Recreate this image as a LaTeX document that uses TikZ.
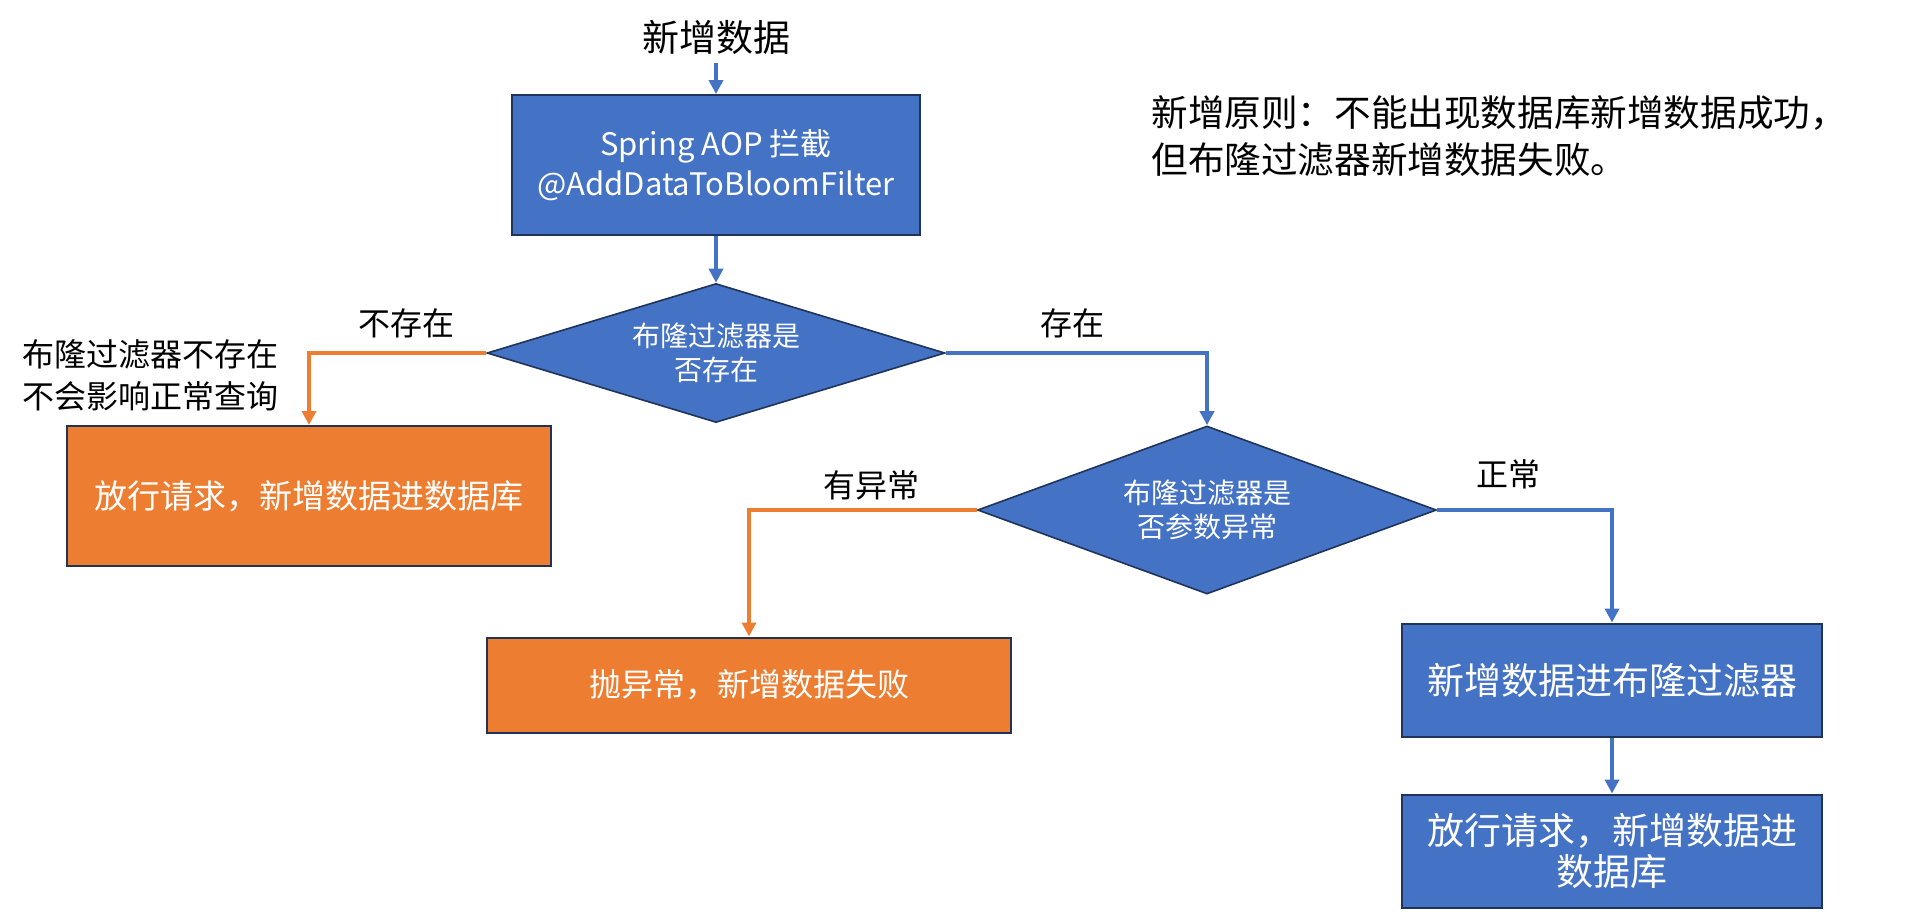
\documentclass[tikz,border=0pt]{standalone}
\usepackage{fontspec}
\setmainfont{Noto Sans CJK SC}
\usetikzlibrary{arrows.meta,shapes.geometric}
\definecolor{fillblue}{HTML}{4472C4}
\definecolor{fillorange}{HTML}{ED7D31}
\definecolor{edgenavy}{HTML}{1F3458}
\tikzset{
  box/.style={rectangle, draw=edgenavy, line width=1pt, text=white, inner sep=0pt, align=center},
  bluebox/.style={box, fill=fillblue},
  orangebox/.style={box, fill=fillorange},
  decision/.style={diamond, draw=edgenavy, line width=0.8pt, fill=fillblue, text=white, inner sep=0pt, align=center, font=\fontsize{14pt}{17pt}\selectfont},
  bluearrow/.style={draw=fillblue, line width=2pt, -{Triangle[length=7pt,width=7pt]}},
  orangearrow/.style={draw=fillorange, line width=2pt, -{Triangle[length=7pt,width=7pt]}},
  lbl/.style={text=black, inner sep=0pt, align=left}
}
\begin{document}
\begin{tikzpicture}[x=0.5pt,y=-0.5pt]
\useasboundingbox (0,0) rectangle (1910,918);
\fill[white] (0,0) rectangle (1910,918);
% title
\node[lbl, font=\fontsize{18.5pt}{22pt}\selectfont] (title) at (716,37) {新增数据};
\coordinate (tstart) at (716,63);
% boxes
\node[bluebox, minimum width=204pt, minimum height=70pt, font=\fontsize{15.5pt}{20pt}\selectfont] (aop) at (716,165) {Spring AOP 拦截\\@AddDataToBloomFilter};
\node[decision, aspect=3.3, minimum width=229pt, minimum height=69.5pt] (d1) at (716,353) {布隆过滤器是\\否存在};
\node[orangebox, minimum width=242pt, minimum height=70pt, font=\fontsize{16.5pt}{20pt}\selectfont] (pass1) at (309,496) {放行请求，新增数据进数据库};
\node[decision, aspect=2.73, minimum width=229.5pt, minimum height=84pt] (d2) at (1207,510) {布隆过滤器是\\否参数异常};
\node[orangebox, minimum width=262pt, minimum height=47.5pt, font=\fontsize{16pt}{20pt}\selectfont] (fail) at (749,685) {抛异常，新增数据失败};
\node[bluebox, minimum width=210pt, minimum height=56.5pt, font=\fontsize{18.5pt}{22pt}\selectfont] (addbf) at (1612,680) {新增数据进布隆过滤器};
\node[bluebox, minimum width=210pt, minimum height=56.5pt, font=\fontsize{18.5pt}{20.5pt}\selectfont] (pass2) at (1612,851) {放行请求，新增数据进\\数据库};
% labels
\node[lbl, font=\fontsize{16pt}{20pt}\selectfont] (lno) at (406,323) {不存在};
\node[lbl, font=\fontsize{16pt}{21pt}\selectfont, anchor=west] (lnote) at (22,375) {布隆过滤器不存在\\不会影响正常查询};
\node[lbl, font=\fontsize{16pt}{20pt}\selectfont] (lyes) at (1072,323) {存在};
\node[lbl, font=\fontsize{16pt}{20pt}\selectfont] (lerr) at (871,485) {有异常};
\node[lbl, font=\fontsize{16pt}{20pt}\selectfont] (lok) at (1508,474) {正常};
\node[lbl, font=\fontsize{18.3pt}{23.5pt}\selectfont, anchor=west] (rule) at (1151,136) {新增原则：不能出现数据库新增数据成功，\\但布隆过滤器新增数据失败。};
% connectors
\draw[bluearrow] (tstart) -- (aop.north);
\draw[bluearrow] (aop.south) -- (d1.north);
\draw[orangearrow] (d1.west) -| (pass1.north);
\draw[bluearrow] (d1.east) -| (d2.north);
\draw[orangearrow] (d2.west) -| (fail.north);
\draw[bluearrow] (d2.east) -| (addbf.north);
\draw[bluearrow] (addbf.south) -- (pass2.north);
\end{tikzpicture}
\end{document}
